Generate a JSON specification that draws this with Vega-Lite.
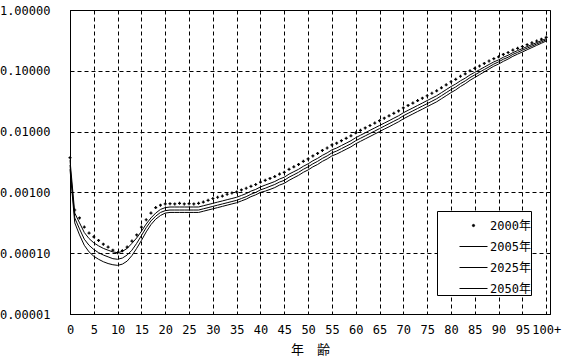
{
"$schema": "https://vega.github.io/schema/vega-lite/v6.json",
"width": 480, "height": 304,
"autosize": {"type": "none"},
"padding": {"left": 70, "top": 10, "right": 13, "bottom": 45},
"background": "white",
"config": {"view": {"stroke": "black", "strokeWidth": 1}, "font": "DejaVu Sans Mono, Noto Sans CJK JP"},
"data": {"values": [
{"age":0,"2000年":3.72e-3,"2005年":3.39e-3,"2025年":2.82e-3,"2050年":2.40e-3},
{"age":1,"2000年":5.13e-4,"2005年":4.57e-4,"2025年":3.80e-4,"2050年":3.16e-4},
{"age":2,"2000年":3.80e-4,"2005年":3.16e-4,"2025年":2.51e-4,"2050年":2.00e-4},
{"age":3,"2000年":2.69e-4,"2005年":2.19e-4,"2025年":1.70e-4,"2050年":1.35e-4},
{"age":4,"2000年":2.14e-4,"2005年":1.74e-4,"2025年":1.35e-4,"2050年":1.05e-4},
{"age":5,"2000年":1.86e-4,"2005年":1.48e-4,"2025年":1.15e-4,"2050年":8.91e-5},
{"age":6,"2000年":1.62e-4,"2005年":1.32e-4,"2025年":1.02e-4,"2050年":7.94e-5},
{"age":7,"2000年":1.41e-4,"2005年":1.20e-4,"2025年":9.33e-5,"2050年":7.24e-5},
{"age":8,"2000年":1.26e-4,"2005年":1.12e-4,"2025年":8.71e-5,"2050年":6.76e-5},
{"age":9,"2000年":1.12e-4,"2005年":1.05e-4,"2025年":8.13e-5,"2050年":6.46e-5},
{"age":10,"2000年":1.02e-4,"2005年":1.02e-4,"2025年":7.94e-5,"2050年":6.31e-5},
{"age":11,"2000年":1.10e-4,"2005年":1.07e-4,"2025年":8.32e-5,"2050年":6.61e-5},
{"age":12,"2000年":1.26e-4,"2005年":1.20e-4,"2025年":9.33e-5,"2050年":7.41e-5},
{"age":13,"2000年":1.58e-4,"2005年":1.45e-4,"2025年":1.12e-4,"2050年":9.12e-5},
{"age":14,"2000年":2.00e-4,"2005年":1.78e-4,"2025年":1.45e-4,"2050年":1.20e-4},
{"age":15,"2000年":2.69e-4,"2005年":2.29e-4,"2025年":1.95e-4,"2050年":1.62e-4},
{"age":16,"2000年":3.55e-4,"2005年":3.02e-4,"2025年":2.63e-4,"2050年":2.24e-4},
{"age":17,"2000年":4.57e-4,"2005年":3.80e-4,"2025年":3.39e-4,"2050年":2.95e-4},
{"age":18,"2000年":5.62e-4,"2005年":4.57e-4,"2025年":4.07e-4,"2050年":3.63e-4},
{"age":19,"2000年":6.17e-4,"2005年":5.25e-4,"2025年":4.68e-4,"2050年":4.17e-4},
{"age":20,"2000年":6.46e-4,"2005年":5.62e-4,"2025年":5.01e-4,"2050年":4.57e-4},
{"age":21,"2000年":6.53e-4,"2005年":5.75e-4,"2025年":5.13e-4,"2050年":4.68e-4},
{"age":22,"2000年":6.46e-4,"2005年":5.75e-4,"2025年":5.13e-4,"2050年":4.68e-4},
{"age":23,"2000年":6.61e-4,"2005年":5.75e-4,"2025年":5.13e-4,"2050年":4.68e-4},
{"age":24,"2000年":6.46e-4,"2005年":5.75e-4,"2025年":5.13e-4,"2050年":4.68e-4},
{"age":25,"2000年":6.53e-4,"2005年":5.75e-4,"2025年":5.13e-4,"2050年":4.68e-4},
{"age":26,"2000年":6.46e-4,"2005年":5.75e-4,"2025年":5.13e-4,"2050年":4.68e-4},
{"age":27,"2000年":6.61e-4,"2005年":5.75e-4,"2025年":5.13e-4,"2050年":4.68e-4},
{"age":28,"2000年":6.92e-4,"2005年":6.03e-4,"2025年":5.37e-4,"2050年":4.90e-4},
{"age":29,"2000年":7.41e-4,"2005年":6.31e-4,"2025年":5.62e-4,"2050年":5.13e-4},
{"age":30,"2000年":7.94e-4,"2005年":6.61e-4,"2025年":5.89e-4,"2050年":5.37e-4},
{"age":31,"2000年":8.32e-4,"2005年":6.92e-4,"2025年":6.17e-4,"2050年":5.62e-4},
{"age":32,"2000年":8.71e-4,"2005年":7.24e-4,"2025年":6.46e-4,"2050年":5.89e-4},
{"age":33,"2000年":9.33e-4,"2005年":7.59e-4,"2025年":6.76e-4,"2050年":6.17e-4},
{"age":34,"2000年":9.77e-4,"2005年":7.94e-4,"2025年":7.08e-4,"2050年":6.46e-4},
{"age":35,"2000年":1.02e-3,"2005年":8.32e-4,"2025年":7.41e-4,"2050年":6.76e-4},
{"age":36,"2000年":1.10e-3,"2005年":8.91e-4,"2025年":7.94e-4,"2050年":7.24e-4},
{"age":37,"2000年":1.17e-3,"2005年":9.55e-4,"2025年":8.51e-4,"2050年":7.76e-4},
{"age":38,"2000年":1.26e-3,"2005年":1.05e-3,"2025年":9.33e-4,"2050年":8.51e-4},
{"age":39,"2000年":1.35e-3,"2005年":1.12e-3,"2025年":1.00e-3,"2050年":9.12e-4},
{"age":40,"2000年":1.48e-3,"2005年":1.23e-3,"2025年":1.10e-3,"2050年":1.00e-3},
{"age":41,"2000年":1.58e-3,"2005年":1.32e-3,"2025年":1.17e-3,"2050年":1.05e-3},
{"age":42,"2000年":1.70e-3,"2005年":1.41e-3,"2025年":1.26e-3,"2050年":1.12e-3},
{"age":43,"2000年":1.82e-3,"2005年":1.51e-3,"2025年":1.35e-3,"2050年":1.20e-3},
{"age":44,"2000年":2.00e-3,"2005年":1.66e-3,"2025年":1.48e-3,"2050年":1.32e-3},
{"age":45,"2000年":2.14e-3,"2005年":1.78e-3,"2025年":1.58e-3,"2050年":1.41e-3},
{"age":46,"2000年":2.40e-3,"2005年":2.00e-3,"2025年":1.78e-3,"2050年":1.58e-3},
{"age":47,"2000年":2.63e-3,"2005年":2.19e-3,"2025年":1.95e-3,"2050年":1.74e-3},
{"age":48,"2000年":2.88e-3,"2005年":2.40e-3,"2025年":2.14e-3,"2050年":1.91e-3},
{"age":49,"2000年":3.24e-3,"2005年":2.69e-3,"2025年":2.40e-3,"2050年":2.14e-3},
{"age":50,"2000年":3.55e-3,"2005年":2.95e-3,"2025年":2.63e-3,"2050年":2.34e-3},
{"age":51,"2000年":3.98e-3,"2005年":3.31e-3,"2025年":2.95e-3,"2050年":2.63e-3},
{"age":52,"2000年":4.37e-3,"2005年":3.63e-3,"2025年":3.24e-3,"2050年":2.88e-3},
{"age":53,"2000年":4.90e-3,"2005年":4.07e-3,"2025年":3.63e-3,"2050年":3.24e-3},
{"age":54,"2000年":5.37e-3,"2005年":4.47e-3,"2025年":3.98e-3,"2050年":3.55e-3},
{"age":55,"2000年":6.03e-3,"2005年":5.01e-3,"2025年":4.47e-3,"2050年":3.98e-3},
{"age":56,"2000年":6.46e-3,"2005年":5.37e-3,"2025年":4.79e-3,"2050年":4.27e-3},
{"age":57,"2000年":7.08e-3,"2005年":5.89e-3,"2025年":5.25e-3,"2050年":4.68e-3},
{"age":58,"2000年":7.76e-3,"2005年":6.46e-3,"2025年":5.75e-3,"2050年":5.13e-3},
{"age":59,"2000年":8.51e-3,"2005年":7.08e-3,"2025年":6.31e-3,"2050年":5.62e-3},
{"age":60,"2000年":9.55e-3,"2005年":7.94e-3,"2025年":7.08e-3,"2050年":6.31e-3},
{"age":61,"2000年":1.05e-2,"2005年":8.71e-3,"2025年":7.76e-3,"2050年":6.92e-3},
{"age":62,"2000年":1.15e-2,"2005年":9.55e-3,"2025年":8.51e-3,"2050年":7.59e-3},
{"age":63,"2000年":1.26e-2,"2005年":1.05e-2,"2025年":9.33e-3,"2050年":8.32e-3},
{"age":64,"2000年":1.38e-2,"2005年":1.15e-2,"2025年":1.02e-2,"2050年":9.12e-3},
{"age":65,"2000年":1.51e-2,"2005年":1.26e-2,"2025年":1.12e-2,"2050年":1.00e-2},
{"age":66,"2000年":1.66e-2,"2005年":1.38e-2,"2025年":1.23e-2,"2050年":1.10e-2},
{"age":67,"2000年":1.82e-2,"2005年":1.51e-2,"2025年":1.35e-2,"2050年":1.20e-2},
{"age":68,"2000年":2.00e-2,"2005年":1.66e-2,"2025年":1.48e-2,"2050年":1.32e-2},
{"age":69,"2000年":2.19e-2,"2005年":1.82e-2,"2025年":1.62e-2,"2050年":1.45e-2},
{"age":70,"2000年":2.45e-2,"2005年":2.04e-2,"2025年":1.82e-2,"2050年":1.62e-2},
{"age":71,"2000年":2.69e-2,"2005年":2.24e-2,"2025年":2.00e-2,"2050年":1.78e-2},
{"age":72,"2000年":2.95e-2,"2005年":2.45e-2,"2025年":2.19e-2,"2050年":1.95e-2},
{"age":73,"2000年":3.24e-2,"2005年":2.69e-2,"2025年":2.40e-2,"2050年":2.14e-2},
{"age":74,"2000年":3.55e-2,"2005年":2.95e-2,"2025年":2.63e-2,"2050年":2.34e-2},
{"age":75,"2000年":3.89e-2,"2005年":3.24e-2,"2025年":2.88e-2,"2050年":2.57e-2},
{"age":76,"2000年":4.27e-2,"2005年":3.55e-2,"2025年":3.16e-2,"2050年":2.82e-2},
{"age":77,"2000年":4.68e-2,"2005年":3.89e-2,"2025年":3.47e-2,"2050年":3.09e-2},
{"age":78,"2000年":5.25e-2,"2005年":4.37e-2,"2025年":3.89e-2,"2050年":3.47e-2},
{"age":79,"2000年":5.89e-2,"2005年":4.90e-2,"2025年":4.37e-2,"2050年":3.89e-2},
{"age":80,"2000年":6.61e-2,"2005年":5.50e-2,"2025年":4.90e-2,"2050年":4.37e-2},
{"age":81,"2000年":7.24e-2,"2005年":6.07e-2,"2025年":5.43e-2,"2050年":4.85e-2},
{"age":82,"2000年":8.13e-2,"2005年":6.85e-2,"2025年":6.15e-2,"2050年":5.52e-2},
{"age":83,"2000年":8.91e-2,"2005年":7.57e-2,"2025年":6.82e-2,"2050年":6.14e-2},
{"age":84,"2000年":1.00e-1,"2005年":8.55e-2,"2025年":7.73e-2,"2050年":6.98e-2},
{"age":85,"2000年":1.10e-1,"2005年":9.44e-2,"2025年":8.56e-2,"2050年":7.76e-2},
{"age":86,"2000年":1.20e-1,"2005年":1.04e-1,"2025年":9.48e-2,"2050年":8.63e-2},
{"age":87,"2000年":1.32e-1,"2005年":1.15e-1,"2025年":1.05e-1,"2050年":9.59e-2},
{"age":88,"2000年":1.45e-1,"2005年":1.27e-1,"2025年":1.16e-1,"2050年":1.07e-1},
{"age":89,"2000年":1.58e-1,"2005年":1.40e-1,"2025年":1.29e-1,"2050年":1.19e-1},
{"age":90,"2000年":1.70e-1,"2005年":1.51e-1,"2025年":1.40e-1,"2050年":1.29e-1},
{"age":91,"2000年":1.86e-1,"2005年":1.67e-1,"2025年":1.55e-1,"2050年":1.43e-1},
{"age":92,"2000年":2.00e-1,"2005年":1.80e-1,"2025年":1.67e-1,"2050年":1.56e-1},
{"age":93,"2000年":2.19e-1,"2005年":1.99e-1,"2025年":1.86e-1,"2050年":1.73e-1},
{"age":94,"2000年":2.34e-1,"2005年":2.15e-1,"2025年":2.01e-1,"2050年":1.88e-1},
{"age":95,"2000年":2.51e-1,"2005年":2.32e-1,"2025年":2.18e-1,"2050年":2.04e-1},
{"age":96,"2000年":2.69e-1,"2005年":2.50e-1,"2025年":2.36e-1,"2050年":2.22e-1},
{"age":97,"2000年":2.88e-1,"2005年":2.70e-1,"2025年":2.55e-1,"2050年":2.41e-1},
{"age":98,"2000年":3.09e-1,"2005年":2.91e-1,"2025年":2.76e-1,"2050年":2.62e-1},
{"age":99,"2000年":3.31e-1,"2005年":3.14e-1,"2025年":2.99e-1,"2050年":2.84e-1},
{"age":100,"2000年":3.55e-1,"2005年":3.39e-1,"2025年":3.24e-1,"2050年":3.09e-1}
]},
"transform": [{"fold": ["2000年", "2005年", "2025年", "2050年"], "as": ["series", "rate"]}],
"encoding": {
  "x": {"field": "age", "type": "quantitative",
    "scale": {"domain": [0, 100.8], "nice": false, "zero": false},
    "axis": {"values": [0,5,10,15,20,25,30,35,40,45,50,55,60,65,70,75,80,85,90,95,100],
      "labelExpr": "datum.value == 100 ? '100+' : datum.label",
      "title": "年　齢", "grid": true, "gridColor": "black", "gridDash": [4,3], "gridOpacity": 1, "gridWidth": 1,
      "domainColor": "black", "domainWidth": 1, "tickSize": 0, "labelPadding": 10, "labelFlush": false,
      "labelFont": "DejaVu Sans Mono, Noto Sans CJK JP", "labelFontSize": 12, "labelColor": "black",
      "titleFont": "Noto Sans CJK JP", "titleFontSize": 13, "titleFontWeight": "normal", "titleColor": "black", "titlePadding": 8}},
  "y": {"field": "rate", "type": "quantitative",
    "scale": {"type": "log", "domain": [0.00001, 1], "nice": false},
    "axis": {"values": [0.00001, 0.0001, 0.001, 0.01, 0.1, 1], "format": ".5f", "title": null,
      "grid": true, "gridColor": "black", "gridDash": [4,3], "gridOpacity": 1, "gridWidth": 1,
      "domainColor": "black", "domainWidth": 1, "tickSize": 0, "labelPadding": 20,
      "labelFont": "DejaVu Sans Mono, Noto Sans CJK JP", "labelFontSize": 12, "labelColor": "black"}},
  "color": {"field": "series", "type": "nominal",
    "scale": {"domain": ["2000年", "2005年", "2025年", "2050年"], "range": ["black", "black", "black", "black"]},
    "legend": {"orient": "none", "legendX": 367, "legendY": 201, "title": null,
      "strokeColor": "black", "fillColor": "white", "padding": 0,
      "symbolType": "stroke", "symbolSize": 420, "symbolOffset": 22, "labelOffset": 2, "rowPadding": 0,
      "labelFont": "DejaVu Sans Mono, Noto Sans CJK JP", "labelFontSize": 12, "labelColor": "black",
      "encode": {"symbols": {"update": {
        "shape": {"signal": "datum.value == '2000年' ? 'circle' : 'stroke'"},
        "size": {"signal": "datum.value == '2000年' ? 5 : 784"},
        "stroke": {"value": "black"}, "fill": {"value": "black"}, "strokeWidth": {"value": 1}, "opacity": {"value": 1}}}}}}
},
"layer": [
  {"transform": [{"filter": "datum.series == '2000年'"}],
   "mark": {"type": "point", "shape": "cross", "filled": true, "size": 9, "opacity": 1}},
  {"transform": [{"filter": "datum.series != '2000年'"}],
   "mark": {"type": "line", "strokeWidth": 1}}
]
}
